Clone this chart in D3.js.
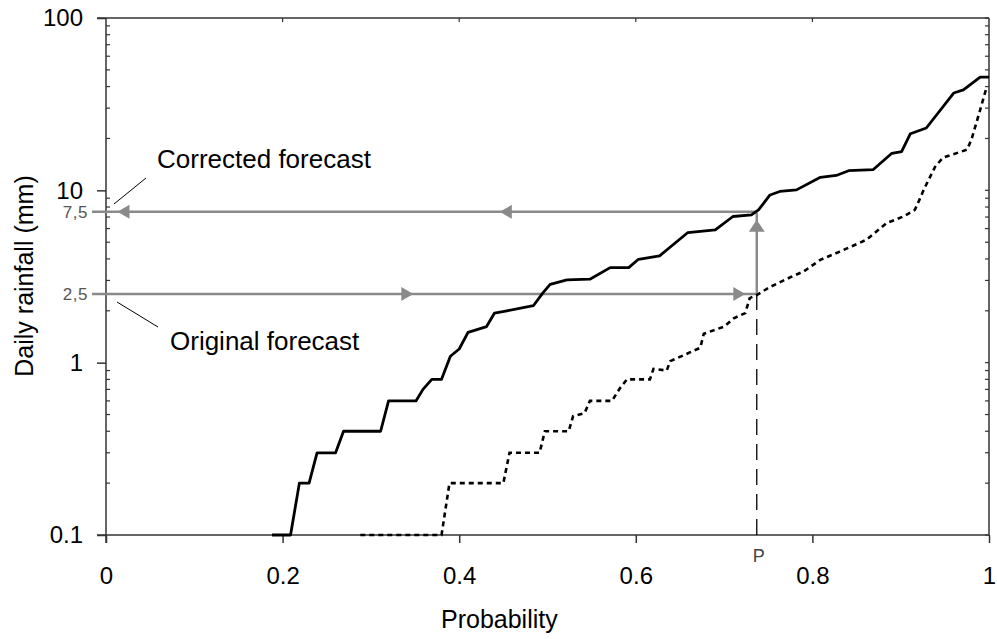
<!DOCTYPE html>
<html>
<head>
<meta charset="utf-8">
<script src="https://cdn.jsdelivr.net/npm/d3@7"></script>
<style>
  html, body { margin: 0; padding: 0; background: #fff; }
  svg { display: block; font-family: "Liberation Sans", Arial, sans-serif; }
</style>
</head>
<body>
<svg id="chart" width="997" height="639"></svg>
<script>
// ---- data ----
const probSolid = [0.188,0.209,0.219,0.230,0.239,0.260,0.269,0.311,0.320,0.351,0.359,0.369,0.380,0.390,0.400,0.410,0.431,0.440,0.454,0.484,0.495,0.503,0.522,0.548,0.571,0.592,0.603,0.627,0.659,0.690,0.710,0.731,0.739,0.752,0.763,0.782,0.809,0.827,0.841,0.869,0.890,0.901,0.911,0.929,0.960,0.971,0.990,1.000];
const rainSolid = [0.1,0.1,0.2,0.2,0.3,0.3,0.4,0.4,0.6,0.6,0.7,0.8,0.8,1.09,1.2,1.5,1.62,1.94,2.0,2.14,2.55,2.85,3.02,3.05,3.56,3.56,3.98,4.17,5.69,5.9,7.05,7.2,7.7,9.4,9.85,10.06,11.9,12.2,13.0,13.2,16.4,16.8,21.3,23.0,36.7,38.3,45.4,45.4];

const probDotted = [0.288,0.380,0.389,0.450,0.457,0.491,0.497,0.524,0.529,0.542,0.548,0.573,0.582,0.590,0.616,0.620,0.635,0.639,0.673,0.677,0.700,0.711,0.724,0.729,0.737,0.752,0.775,0.790,0.809,0.831,0.861,0.884,0.903,0.916,0.922,0.926,0.939,0.948,0.975,0.980,0.990,0.997];
const rainDotted = [0.1,0.1,0.2,0.2,0.3,0.3,0.4,0.4,0.49,0.51,0.6,0.6,0.71,0.8,0.8,0.92,0.9,1.02,1.22,1.47,1.62,1.81,1.94,2.37,2.47,2.75,3.13,3.38,3.95,4.41,5.16,6.45,7.05,7.7,9.0,10.06,13.7,15.5,17.2,19.6,29.3,39.2];

const xTicks = [0, 0.2, 0.4, 0.6, 0.8, 1];
const xTickLabels = ["0", "0.2", "0.4", "0.6", "0.8", "1"];
const yTicks = [0.1, 1, 10, 100];
const yTickLabels = ["0.1", "1", "10", "100"];
const yMinor = [0.2,0.3,0.4,0.5,0.6,0.7,0.8,0.9,2,3,4,5,6,7,8,9,20,30,40,50,60,70,80,90];

const pValue = 0.737;          // probability P
const originalValue = 2.5;     // original forecast (mm)
const correctedValue = 7.5;    // corrected forecast (mm)
const refLabels = ["7,5", "2,5"];
// arrowheads along the construction lines: [probability, rainfall, direction]
const arrowHeads = [
  [0.013, 7.5, "left"], [0.446, 7.5, "left"],
  [0.348, 2.5, "right"], [0.724, 2.5, "right"],
  [0.737, 6.74, "up"]
];

// ---- scales ----
const svg = d3.select("#chart");
const x = d3.scaleLinear().domain([0, 1]).range([106, 989]);
const y = d3.scaleLog().domain([0.1, 100]).range([535, 18]);
const axisColor = "#333";
const gray = "#8a8a8a";

// frame
svg.append("line").attr("x1", 97).attr("x2", x(1)).attr("y1", y(100)).attr("y2", y(100))
  .attr("stroke", axisColor).attr("stroke-width", 1.5);
svg.append("line").attr("x1", x(1)).attr("x2", x(1)).attr("y1", y(100)).attr("y2", y(0.1))
  .attr("stroke", axisColor).attr("stroke-width", 1.5);

// bottom axis
const xAxis = d3.axisBottom(x).tickValues(xTicks).tickFormat((d, i) => xTickLabels[i])
  .tickSize(8).tickPadding(24).tickSizeOuter(0);
const gx = svg.append("g").attr("transform", `translate(0,${y(0.1)})`).call(xAxis);
gx.select(".domain").attr("stroke", axisColor).attr("stroke-width", 1.5)
  .attr("d", `M97,0H${x(1)}`);
gx.selectAll(".tick line").attr("stroke", axisColor).attr("stroke-width", 1.5);
gx.selectAll(".tick text").attr("font-size", 24).attr("fill", "#000")
  .attr("font-family", "Liberation Sans, Arial, sans-serif");

// top ticks (inward)
svg.append("g").selectAll("line").data(xTicks.slice(1, -1)).join("line")
  .attr("x1", d => x(d)).attr("x2", d => x(d)).attr("y1", y(100)).attr("y2", y(100) + 4)
  .attr("stroke", axisColor).attr("stroke-width", 1.2);

// left axis
const yAxis = d3.axisLeft(y).tickValues(yTicks).tickFormat((d, i) => yTickLabels[i])
  .tickSize(9).tickPadding(14).tickSizeOuter(0);
const gy = svg.append("g").attr("transform", `translate(${x(0)},0)`).call(yAxis);
gy.select(".domain").attr("stroke", axisColor).attr("stroke-width", 1.5)
  .attr("d", `M0,${y(100)}V${y(0.1) + 8}`);
gy.selectAll(".tick line").attr("stroke", axisColor).attr("stroke-width", 1.5);
gy.selectAll(".tick text").attr("font-size", 24).attr("fill", "#000")
  .attr("font-family", "Liberation Sans, Arial, sans-serif");

// minor ticks left (inward) and right (inward)
svg.append("g").selectAll("line").data(yMinor).join("line")
  .attr("x1", x(0)).attr("x2", x(0) + 4).attr("y1", d => y(d)).attr("y2", d => y(d))
  .attr("stroke", axisColor).attr("stroke-width", 1.2);
svg.append("g").selectAll("line").data(yMinor.concat(yTicks)).join("line")
  .attr("x1", x(1)).attr("x2", x(1) - 4).attr("y1", d => y(d)).attr("y2", d => y(d))
  .attr("stroke", axisColor).attr("stroke-width", 1.2);

// axis titles
svg.append("text").attr("x", 441).attr("y", 628).attr("font-size", 25).attr("fill", "#000")
  .text("Probability");
svg.append("text").attr("transform", "translate(33,276) rotate(-90)")
  .attr("text-anchor", "middle").attr("font-size", 25).attr("fill", "#000")
  .text("Daily rainfall (mm)");

// construction lines (gray)
[correctedValue, originalValue].forEach((v, i) => {
  svg.append("line").attr("x1", 92).attr("x2", x(pValue)).attr("y1", y(v)).attr("y2", y(v))
    .attr("stroke", gray).attr("stroke-width", 2.5);
  svg.append("text").attr("x", 88).attr("y", y(v)).attr("dy", "0.36em")
    .attr("text-anchor", "end").attr("font-size", 17).attr("letter-spacing", 0.5)
    .attr("fill", "#555").text(refLabels[i]);
});
svg.append("line").attr("x1", x(pValue)).attr("x2", x(pValue))
  .attr("y1", y(originalValue)).attr("y2", y(correctedValue) + 1)
  .attr("stroke", gray).attr("stroke-width", 2.5);

// dashed vertical from P
svg.append("line").attr("x1", x(pValue)).attr("x2", x(pValue))
  .attr("y1", y(originalValue)).attr("y2", y(0.1))
  .attr("stroke", "#000").attr("stroke-width", 1.3).attr("stroke-dasharray", "16,9");
svg.append("text").attr("x", x(pValue) + 2).attr("y", 562).attr("text-anchor", "middle")
  .attr("font-size", 18).attr("fill", "#444").text("P");

// arrowheads
arrowHeads.forEach(([p, v, dir]) => {
  const tx = x(p), ty = y(v);
  let pts;
  if (dir === "left") pts = [[tx, ty], [tx + 12, ty - 7], [tx + 12, ty + 7]];
  else if (dir === "right") pts = [[tx, ty], [tx - 12, ty - 7], [tx - 12, ty + 7]];
  else pts = [[tx, ty], [tx - 8, ty + 12], [tx + 8, ty + 12]];
  svg.append("polygon").attr("points", pts.map(d => d.join(",")).join(" ")).attr("fill", gray);
});

// curves
const line = d3.line().x(d => x(d[0])).y(d => y(d[1]));
svg.append("path").datum(probDotted.map((p, i) => [p, rainDotted[i]]))
  .attr("d", line).attr("fill", "none").attr("stroke", "#000")
  .attr("stroke-width", 2.6).attr("stroke-dasharray", "5,4");
svg.append("path").datum(probSolid.map((p, i) => [p, rainSolid[i]]))
  .attr("d", line).attr("fill", "none").attr("stroke", "#000")
  .attr("stroke-width", 2.8).attr("stroke-linejoin", "round");

// annotations
svg.append("text").attr("x", 157).attr("y", 168).attr("font-size", 26).attr("fill", "#000")
  .text("Corrected forecast");
svg.append("line").attr("x1", 114).attr("y1", 204).attr("x2", 146).attr("y2", 178)
  .attr("stroke", "#000").attr("stroke-width", 1);
svg.append("text").attr("x", 170).attr("y", 350).attr("font-size", 26).attr("fill", "#000")
  .text("Original forecast");
svg.append("line").attr("x1", 117).attr("y1", 302).attr("x2", 158).attr("y2", 327)
  .attr("stroke", "#000").attr("stroke-width", 1);
</script>
</body>
</html>
